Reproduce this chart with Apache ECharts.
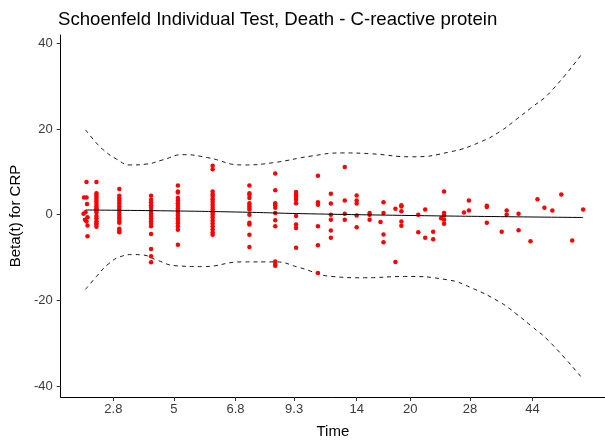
<!DOCTYPE html>
<html>
<head>
<meta charset="utf-8">
<script src="https://cdn.jsdelivr.net/npm/echarts@6/dist/echarts.min.js"></script>
<style>
  html, body { margin: 0; padding: 0; background: #fff; }
  #chart { width: 605px; height: 444px; }
</style>
</head>
<body>
<div id="chart"></div>
<script>
// transformed time scale: tick positions and their labels
var tickPos = [5.3, 11.4, 17.6, 23.5, 29.8, 35.2, 41.2, 47.5];
var tickLabels = ['2.8', '5', '6.8', '9.3', '14', '20', '28', '44'];
var yTicks = [-40, -20, 0, 20, 40];

// scaled Schoenfeld residuals, grouped by event time
var eventTime = [
  2.6, 2.35, 2.6, 2.65, 2.5, 2.3, 2.7, 2.45, 2.6, 2.7, 2.7
];
var eventBeta = [
  7.6, 4.0, 4.0, 2.5, 0.6, 0.2, -0.6, -1.2, -1.6, -2.5, -5.0
];
var columnTime = [3.6, 5.9, 9.1, 11.8, 15.3, 19.0, 21.6, 23.7, 25.9, 27.2, 28.6, 29.8, 31.1, 32.2, 32.5, 33.7, 34.3,
  36.0, 36.7, 37.5, 38.3, 38.6, 40.6, 41.1, 42.9, 44.4, 44.9, 46.1, 47.3, 48.0, 48.7, 49.5, 50.4, 51.5, 52.6];
var columnBeta = [
  [7.6, 5.0, 4.5, 4.0, 3.5, 3.0, 2.5, 2.0, 1.5, 1.0, 0.5, -0.3, -0.8, -1.5, -2.0, -2.4, -2.8],
  [6.0, 4.4, 3.8, 3.2, 2.6, 2.0, 1.4, 0.9, 0.3, -0.3, -0.8, -1.4, -1.9, -3.3, -3.7, -4.1],
  [4.4, 3.5, 2.9, 2.2, 1.6, 0.9, 0.3, -0.3, -0.9, -1.5, -2.1, -2.7, -4.5, -8.0, -9.7, -11.1],
  [6.8, 5.4, 5.2, 3.9, 3.3, 2.7, 2.1, 1.5, 0.9, 0.4, -0.2, -0.8, -1.4, -2.0, -2.7, -3.5, -7.0],
  [11.4, 10.6, 5.4, 4.8, 4.2, 3.6, 3.0, 2.4, 1.8, 1.2, 0.6, 0.0, -0.6, -1.3, -2.0, -2.7, -3.4, -4.1, -4.7],
  [6.8, 5.0, 4.6, 3.9, 2.7, 2.1, 1.6, 1.2, 0.0, -1.9, -2.3, -4.7, -7.5],
  [9.6, 5.7, 2.7, 2.2, 1.6, 0.4, -1.3, -2.7, -10.9, -11.5, -11.9],
  [5.3, 4.7, 4.2, 3.5, 2.7, -0.3, -2.3, -3.1, -7.7],
  [9.1, 2.9, 2.3, -2.7, -7.1, -13.6],
  [4.9, 2.6, 0.0, -1.2, -3.7, -5.4],
  [11.1, 3.3, 0.2, -1.2],
  [4.5, 3.3, 2.6, -0.2, -2.9],
  [0.4, 0.0, -1.2],
  [-1.7],
  [2.9, 0.4, -4.6, -6.4],
  [1.4, -11.0],
  [2.2, 1.9, 0.8, -1.6, -2.6],
  [0.0, -4.1],
  [1.2, -5.4],
  [-4.0, -5.7],
  [-0.8],
  [5.4, 0.4, -0.2, -1.2, -2.1],
  [0.5],
  [3.3, 1.0],
  [2.1, 1.8, -1.9],
  [-4.0],
  [1.0, 0.0],
  [0.2, -3.6],
  [-6.2],
  [3.6],
  [1.6],
  [1.0],
  [4.7],
  [-6.0],
  [1.2]
];

// smoothed beta(t) and its +/- 2 se band
var fitTime = [2.5, 10.8, 18.3, 24.3, 34.3, 44.3, 52.6];
var fitBeta = [1.1, 0.9, 0.6, 0.25, -0.15, -0.45, -0.65];
var upperTime = [2.5, 3.6, 4.3, 5.6, 7.0, 8.6, 10.3, 12.3, 14.8, 18.3, 21.3, 25.3, 28.3, 31.3, 35.3, 39.3, 42.3, 44.3, 45.8, 47.3, 49.3, 52.6];
var upperBeta = [19.8, 16.7, 15.1, 13.0, 11.6, 11.8, 12.8, 14.0, 13.3, 11.6, 12.1, 13.7, 14.4, 14.2, 13.5, 14.7, 17.0, 19.5, 22.1, 24.8, 28.6, 37.9];
var lowerTime = [2.5, 3.6, 4.8, 6.0, 7.3, 8.3, 9.6, 11.6, 14.3, 18.3, 21.6, 24.0, 27.3, 30.6, 34.6, 39.0, 41.3, 44.3, 45.8, 47.3, 49.3, 52.6];
var lowerBeta = [-17.4, -14.4, -11.5, -9.8, -9.3, -9.4, -10.5, -11.9, -12.1, -11.0, -11.0, -12.3, -14.4, -14.7, -14.4, -15.2, -17.0, -20.5, -23.0, -25.8, -29.8, -38.4];

function zip(xs, ys) {
    return xs.map(function (x, i) { return [x, ys[i]]; });
}

var points = zip(eventTime, eventBeta);
columnTime.forEach(function (t, i) {
    columnBeta[i].forEach(function (b) { points.push([t, b]); });
});

var myChart = echarts.init(document.getElementById('chart'));
var fontFamily = 'Liberation Sans, Arial, sans-serif';
var axisText = { color: '#3a3a3a', fontSize: 13, fontFamily: fontFamily };
var dashStyle = { color: '#000', width: 0.9, type: [4, 4] };

var options = {
    backgroundColor: '#fff',
    animation: false,
    title: {
        text: 'Schoenfeld Individual Test, Death - C-reactive protein',
        left: 53,
        top: 5,
        textStyle: { color: '#000', fontSize: 18.6, fontWeight: 'normal', fontFamily: fontFamily }
    },
    grid: { left: 57, right: 0, top: 35, bottom: 46, containLabel: false },
    xAxis: {
        type: 'value',
        min: 0,
        max: 54.8,
        name: 'Time',
        nameLocation: 'middle',
        nameGap: 27,
        nameTextStyle: { color: '#000', fontSize: 15, fontFamily: fontFamily },
        axisLine: { show: true, onZero: false, lineStyle: { color: '#000', width: 1 } },
        axisTick: { show: true, length: 4, customValues: tickPos, lineStyle: { color: '#333' } },
        axisLabel: Object.assign({
            customValues: tickPos,
            margin: 6,
            formatter: function (v) {
                var i = tickPos.indexOf(v);
                return i >= 0 ? tickLabels[i] : '';
            }
        }, axisText),
        splitLine: { show: false }
    },
    yAxis: {
        type: 'value',
        min: -42.5,
        max: 41.9,
        name: 'Beta(t) for CRP',
        nameLocation: 'middle',
        nameGap: 30,
        nameTextStyle: { color: '#000', fontSize: 15, fontFamily: fontFamily },
        axisLine: { show: true, onZero: false, lineStyle: { color: '#000', width: 1 } },
        axisTick: { show: true, length: 4, customValues: yTicks, lineStyle: { color: '#333' } },
        axisLabel: Object.assign({ customValues: yTicks, margin: 8 }, axisText),
        splitLine: { show: false }
    },
    series: [
        {
            type: 'scatter',
            data: points,
            symbolSize: 4.5,
            itemStyle: { color: '#ff0000', opacity: 1 },
            z: 3
        },
        {
            type: 'line',
            data: zip(fitTime, fitBeta),
            smooth: true,
            showSymbol: false,
            lineStyle: { color: '#000', width: 1 },
            z: 4
        },
        {
            type: 'line',
            data: zip(upperTime, upperBeta),
            smooth: true,
            showSymbol: false,
            lineStyle: dashStyle
        },
        {
            type: 'line',
            data: zip(lowerTime, lowerBeta),
            smooth: true,
            showSymbol: false,
            lineStyle: dashStyle
        }
    ]
};
myChart.setOption(options);
window.addEventListener('resize', myChart.resize);
</script>
</body>
</html>
